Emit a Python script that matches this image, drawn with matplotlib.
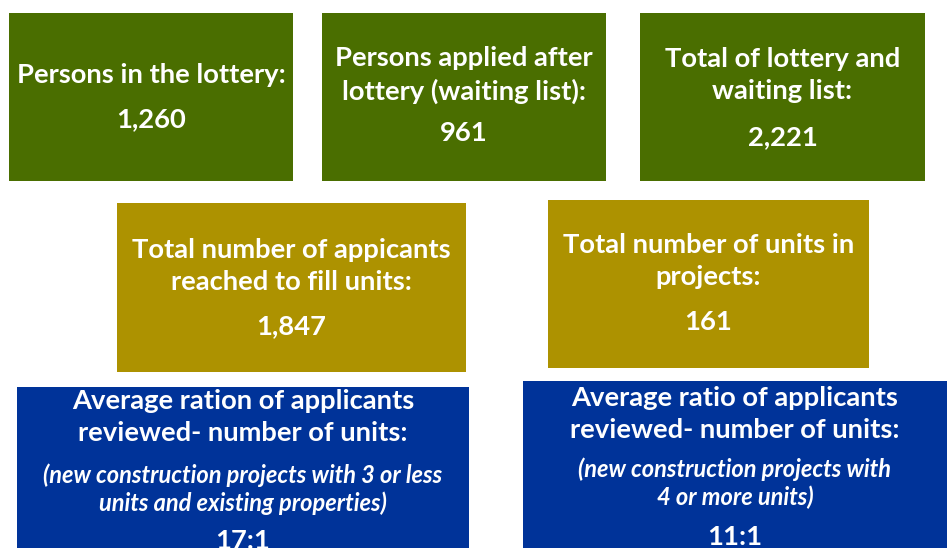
import matplotlib.pyplot as plt
from matplotlib.patches import Rectangle

# Data
titles = [
    "Persons in the lottery:",
    "Persons applied after\nlottery (waiting list):",
    "Total of lottery and\nwaiting list:",
    "Total number of appicants\nreached to fill units:",
    "Total number of units in\nprojects:",
    "Average ration of applicants\nreviewed- number of units:",
    "Average ratio of applicants\nreviewed- number of units:",
]
notes = ["", "", "", "", "",
         "(new construction projects with 3 or less\nunits and existing properties)",
         "(new construction projects with\n4 or more units)"]
values = ["1,260", "961", "2,221", "1,847", "161", "17:1", "11:1"]

# Layout: box (x0, y0, x1, y1) in pixels, colour, text centre y positions
GREEN = "#4a6e00"
GOLD = "#ad9200"
BLUE = "#003399"
boxes = [(9, 13, 293, 181), (322, 13, 606, 181), (640, 13, 925, 181),
         (117, 203, 466, 372), (548, 200, 869, 368),
         (17, 387, 469, 560), (523, 381, 960, 560)]
colors = [GREEN, GREEN, GREEN, GOLD, GOLD, BLUE, BLUE]
title_y = [75, 75, 75, 266, 261, 417, 414]
note_y = [None, None, None, None, None, 489, 483]
value_y = [119, 133, 137, 326, 322, 541, 537]

plt.rcParams['font.family'] = ['Lato', 'DejaVu Sans']

fig = plt.figure(figsize=(9.47, 5.48), dpi=100)
ax = fig.add_axes([0, 0, 1, 1])
ax.set_xlim(0, 947)
ax.set_ylim(548, 0)
ax.axis("off")

for i, (x0, y0, x1, y1) in enumerate(boxes):
    ax.add_patch(Rectangle((x0, y0), x1 - x0, y1 - y0, facecolor=colors[i],
                           edgecolor="none"))
    cx = (x0 + min(x1, 947)) / 2
    ax.text(cx, title_y[i], titles[i], ha="center", va="center", color="white",
            fontsize=19.7, fontweight="bold", linespacing=1.4)
    if notes[i]:
        ax.text(cx, note_y[i], notes[i], ha="center", va="center", color="white",
                fontsize=17, fontweight="bold", fontstyle="italic",
                linespacing=1.22)
    ax.text(cx, value_y[i], values[i], ha="center", va="center", color="white",
            fontsize=19.7, fontweight="bold")

fig.savefig("out.png", dpi=100)
